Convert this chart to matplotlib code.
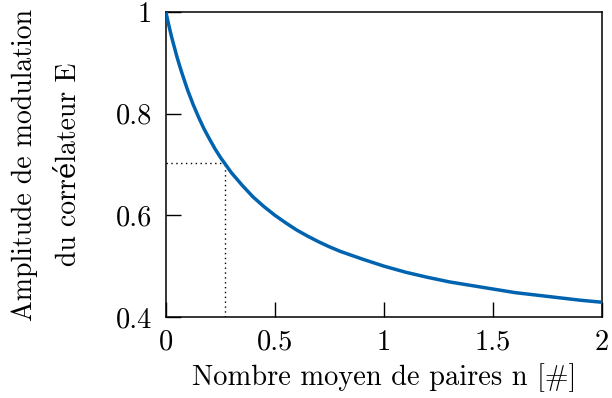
import matplotlib
matplotlib.use('Agg')
import matplotlib.pyplot as plt

# Points
n_pairs = [0, 0.0125, 0.025, 0.0375, 0.05, 0.0625, 0.075, 0.1, 0.125, 0.15, 0.175,
           0.2, 0.225, 0.25, 0.3, 0.35, 0.4, 0.45, 0.5, 0.55, 0.6, 0.65, 0.7,
           0.75, 0.8, 0.9, 1.0, 1.1, 1.2, 1.3, 1.4, 1.5, 1.6, 1.7, 1.8, 1.9, 2.0]
amplitude = [1.0, 0.976, 0.953, 0.933, 0.913, 0.895, 0.878, 0.846, 0.818, 0.793,
             0.770, 0.750, 0.731, 0.714, 0.684, 0.659, 0.636, 0.617, 0.600,
             0.585, 0.571, 0.559, 0.548, 0.538, 0.529, 0.514, 0.500, 0.488,
             0.478, 0.469, 0.462, 0.455, 0.448, 0.443, 0.438, 0.433, 0.429]

# Marked working point
n_mark = 0.27
e_mark = 0.703

x_ticks = [0, 0.5, 1, 1.5, 2]
x_labels = ['0', '0.5', '1', '1.5', '2']
y_ticks = [0.4, 0.6, 0.8, 1.0]
y_labels = ['0.4', '0.6', '0.8', '1']

plt.rcParams['font.family'] = ['cmr10', 'DejaVu Serif']
plt.rcParams['font.size'] = 20.5

fig = plt.figure(figsize=(6.12, 3.98), dpi=100)
ax = fig.add_axes([0.271, 0.2035, 0.713, 0.7665])

ax.plot(n_pairs, amplitude, color='#0063B0', lw=2.5, solid_capstyle='butt', zorder=3)
ax.plot([0, n_mark], [e_mark, e_mark], color='black', lw=1.0, ls=(0, (1, 2.5)))
ax.plot([n_mark, n_mark], [0.4, e_mark], color='black', lw=1.0, ls=(0, (1, 2.5)))

ax.set_xlim(0, 2)
ax.set_ylim(0.4, 1)
ax.set_xticks(x_ticks)
ax.set_xticklabels(x_labels)
ax.set_yticks(y_ticks)
ax.set_yticklabels(y_labels)
ax.tick_params(direction='in', length=11, width=1.0)
ax.tick_params(axis='x', pad=9)
ax.tick_params(axis='y', pad=10)

for s in ax.spines.values():
    s.set_linewidth(1.1)

ax.set_xlabel('Nombre moyen de paires n [#]', labelpad=5)
ax.set_ylabel('Amplitude de modulation\ndu corrélateur E', fontsize=20,
              labelpad=24, linespacing=1.9)

plt.savefig('out.png', dpi=100)
